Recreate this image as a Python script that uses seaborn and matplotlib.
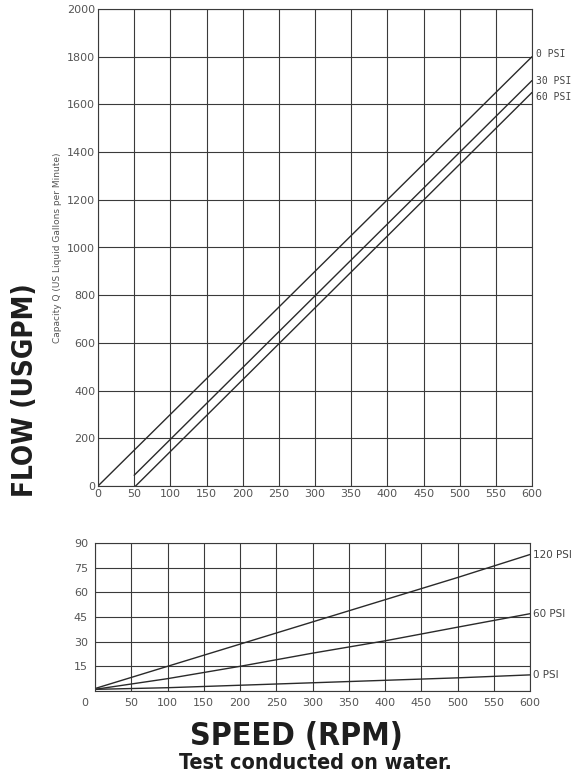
import pandas as pd
import seaborn as sns
import matplotlib.pyplot as plt

# Flow vs speed (top chart)
flow_rpm = {
    "0 PSI": [0, 600],
    "30 PSI": [50, 600],
    "60 PSI": [52, 600],
}
flow_gpm = {
    "0 PSI": [0, 1800],
    "30 PSI": [45, 1700],
    "60 PSI": [0, 1650],
}

# Power vs speed (bottom chart)
power_rpm = [0, 100, 200, 300, 400, 500, 600]
power_120psi = [1.5, 15, 28.5, 42, 55.5, 69, 83]
power_60psi = [1, 7.5, 15, 23, 30.5, 38.8, 47]
power_0psi = [1, 2, 3.5, 5, 6.5, 8, 9.8]

x_ticks = list(range(0, 601, 50))
flow_ticks = list(range(0, 2001, 200))
power_ticks = [0, 15, 30, 45, 60, 75, 90]

sns.set_theme(style="whitegrid", rc={
    "grid.color": "#3a3a3a",
    "grid.linewidth": 0.8,
    "axes.edgecolor": "#3a3a3a",
    "axes.linewidth": 0.8,
})
plt.rcParams["font.family"] = ["DejaVu Sans"]

tick_font = dict(fontsize=8, color="#555555")
label_font = dict(fontsize=7, color="#444444", family="DejaVu Sans Mono")
big_font = dict(fontweight="bold", fontstretch="condensed", color="#1e1e1e")

fig = plt.figure(figsize=(5.74, 7.78), dpi=100)

# ---- top chart
ax1 = fig.add_axes([98 / 574, 1 - 486 / 778, 434 / 574, 477 / 778])
rows = []
for name in flow_rpm:
    for x, y in zip(flow_rpm[name], flow_gpm[name]):
        rows.append({"series": name, "rpm": x, "gpm": y})
df_flow = pd.DataFrame(rows)
sns.lineplot(data=df_flow, x="rpm", y="gpm", units="series", estimator=None,
             color="#2a2a2a", linewidth=1.0, ax=ax1)
ax1.set_xlim(0, 600)
ax1.set_ylim(0, 2000)
ax1.set_xticks(x_ticks)
ax1.set_yticks(flow_ticks)
ax1.set_xticklabels([str(t) for t in x_ticks], **tick_font)
ax1.set_yticklabels([str(t) for t in flow_ticks], **tick_font)
ax1.tick_params(length=0, pad=2)
ax1.set_xlabel("")
ax1.set_ylabel("Capacity Q (US Liquid Gallons per Minute)", fontsize=6.5,
               color="#555555", labelpad=4)
for name, dy in [("0 PSI", 10), ("30 PSI", 0), ("60 PSI", -18)]:
    ax1.text(606, flow_gpm[name][-1] + dy, name, va="center", ha="left",
             **label_font)

# ---- bottom chart
ax2 = fig.add_axes([95 / 574, 1 - 691 / 778, 435 / 574, 148 / 778])
df_power = pd.DataFrame({
    "rpm": power_rpm * 3,
    "power": power_120psi + power_60psi + power_0psi,
    "series": ["120 PSI"] * 7 + ["60 PSI"] * 7 + ["0 PSI"] * 7,
})
sns.lineplot(data=df_power, x="rpm", y="power", units="series", estimator=None,
             color="#2a2a2a", linewidth=1.0, ax=ax2)
ax2.set_xlim(0, 600)
ax2.set_ylim(0, 90)
ax2.set_xticks(x_ticks)
ax2.set_yticks(power_ticks)
ax2.set_xticklabels([""] + [str(t) for t in x_ticks[1:]], **tick_font)
ax2.set_yticklabels([""] + [str(t) for t in power_ticks[1:]], **tick_font)
ax2.tick_params(length=0, pad=5)
ax2.set_xlabel("")
ax2.set_ylabel("")
ax2.text(-0.015, -0.08, "0", transform=ax2.transAxes, ha="right", va="center",
         **tick_font)
for name, vals in [("120 PSI", power_120psi), ("60 PSI", power_60psi),
                   ("0 PSI", power_0psi)]:
    ax2.text(604, vals[-1], name, va="center", ha="left", fontsize=7.5,
             color="#444444")

# ---- big labels
fig.text(25 / 574, 1 - 390 / 778, "FLOW (USGPM)", rotation=90, ha="center",
         va="center", fontsize=20, **big_font)
fig.text(296 / 574, 1 - 736 / 778, "SPEED (RPM)", ha="center", va="center",
         fontsize=23, **big_font)
fig.text(315 / 574, 1 - 763 / 778, "Test conducted on water.", ha="center",
         va="center", fontsize=15.5, **big_font)

fig.savefig("out.png", dpi=100)
